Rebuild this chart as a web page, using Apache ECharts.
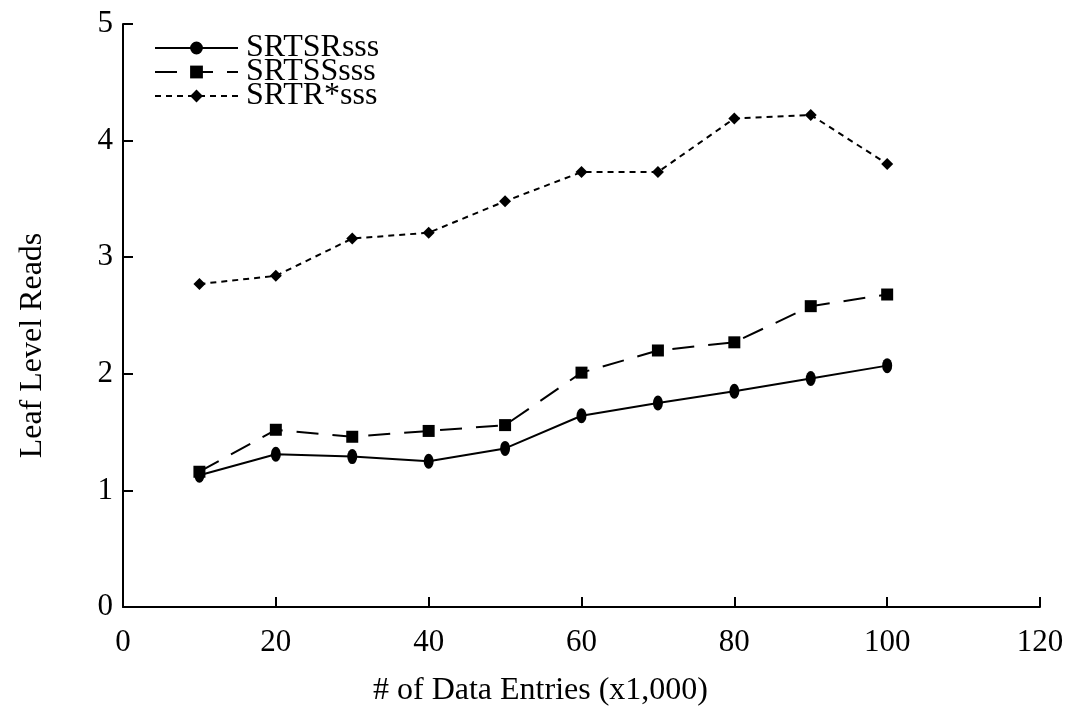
<!DOCTYPE html>
<html>
<head>
<meta charset="utf-8">
<script src="https://cdn.jsdelivr.net/npm/echarts@6/dist/echarts.min.js"></script>
<style>
  html, body { margin: 0; padding: 0; background: #ffffff; }
  #chart { width: 1068px; height: 713px; }
</style>
</head>
<body>
<div id="chart"></div>
<script>
// Number of data entries (thousands)
const entries = [10, 20, 30, 40, 50, 60, 70, 80, 90, 100];

// Leaf level reads per method
const srtsr    = [1.13, 1.31, 1.29, 1.25, 1.36, 1.64, 1.75, 1.85, 1.96, 2.07];
const srtss    = [1.16, 1.52, 1.46, 1.51, 1.56, 2.01, 2.20, 2.27, 2.58, 2.68];
const srtrStar = [2.77, 2.84, 3.16, 3.21, 3.48, 3.73, 3.73, 4.19, 4.22, 3.80];

const seriesNames = ['SRTSRsss', 'SRTSSsss', 'SRTR*sss'];

// Axis ranges
const xMin = 0, xMax = 120, xStep = 20;
const yMin = 0, yMax = 5, yStep = 1;

const FONT = 'Liberation Serif';
const ellipsePath = 'path://M1,0A1,1 0 1,1 1,2A1,1 0 1,1 1,0Z';

const pairs = ys => entries.map((x, i) => [x, ys[i]]);

const chart = echarts.init(document.getElementById('chart'), null, { renderer: 'canvas' });

chart.setOption({
  backgroundColor: '#ffffff',
  animation: false,
  grid: { left: 123, right: 28, top: 24, bottom: 106, containLabel: false },
  legend: {
    orient: 'vertical',
    left: 149,
    top: 27,
    itemWidth: 83,
    itemHeight: 16,
    itemGap: -8,
    data: seriesNames,
    textStyle: { fontFamily: FONT, fontSize: 32, color: '#000', padding: [0, 0, 0, 3] }
  },
  xAxis: {
    type: 'value',
    min: xMin, max: xMax, interval: xStep,
    name: '# of Data Entries (x1,000)',
    nameLocation: 'middle',
    nameGap: 68,
    nameTextStyle: { fontFamily: FONT, fontSize: 32, color: '#000', padding: [0, 82, 0, 0] },
    axisLine: { show: true, lineStyle: { color: '#000', width: 2 } },
    axisTick: { show: true, inside: true, length: 10, lineStyle: { color: '#000', width: 2 } },
    axisLabel: { fontFamily: FONT, fontSize: 31, color: '#000', margin: 20 },
    splitLine: { show: false }
  },
  yAxis: {
    type: 'value',
    min: yMin, max: yMax, interval: yStep,
    name: 'Leaf Level Reads',
    nameLocation: 'middle',
    nameGap: 74,
    nameRotate: 90,
    nameTextStyle: { fontFamily: FONT, fontSize: 32, color: '#000', padding: [0, 60, 0, 0] },
    axisLine: { show: true, lineStyle: { color: '#000', width: 2 } },
    axisTick: { show: true, inside: true, length: 10, lineStyle: { color: '#000', width: 2 } },
    axisLabel: { fontFamily: FONT, fontSize: 31, color: '#000', margin: 10 },
    splitLine: { show: false }
  },
  series: [
    {
      name: seriesNames[0],
      type: 'line',
      data: pairs(srtsr),
      symbol: ellipsePath,
      symbolSize: [10, 15],
      showAllSymbol: true,
      lineStyle: { color: '#000', width: 2, type: 'solid' },
      itemStyle: { color: '#000', borderWidth: 0 },
      z: 4
    },
    {
      name: seriesNames[1],
      type: 'line',
      data: pairs(srtss),
      symbol: 'rect',
      symbolSize: 12,
      showAllSymbol: true,
      lineStyle: { color: '#000', width: 2, type: [22, 14] },
      itemStyle: { color: '#000', borderWidth: 0 },
      z: 3
    },
    {
      name: seriesNames[2],
      type: 'line',
      data: pairs(srtrStar),
      symbol: 'diamond',
      symbolSize: 12,
      showAllSymbol: true,
      lineStyle: { color: '#000', width: 2, type: [6, 5] },
      itemStyle: { color: '#000', borderWidth: 0 },
      z: 2
    }
  ]
});
</script>
</body>
</html>
